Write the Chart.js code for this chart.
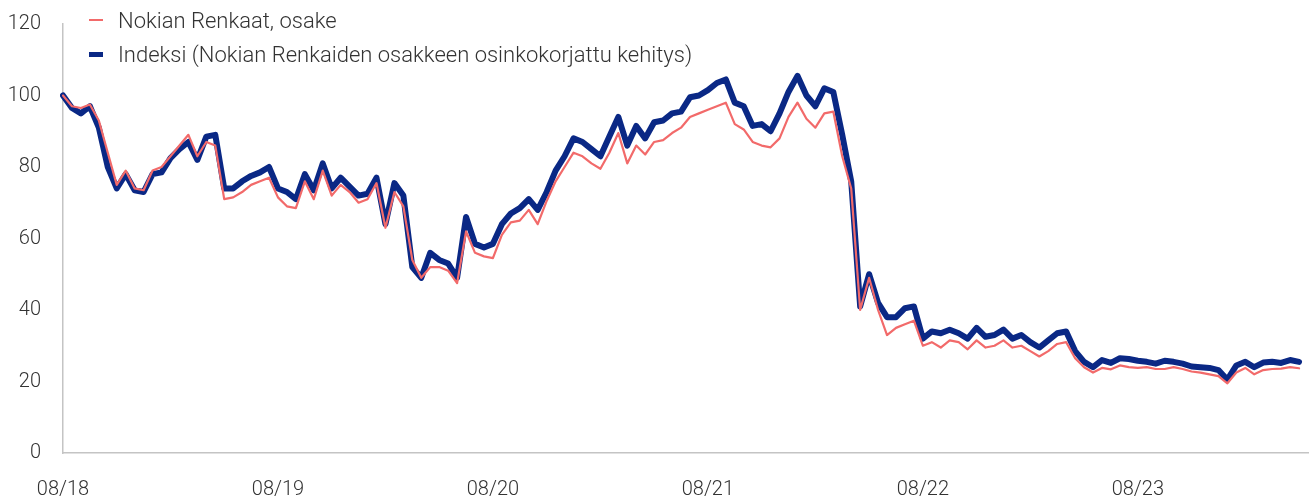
<!DOCTYPE html>
<html>
<head>
<meta charset="utf-8">
<script src="https://cdn.jsdelivr.net/npm/chart.js@4.4.1/dist/chart.umd.min.js"></script>
<style>
  body { margin: 0; background: #fff; }
  #wrap { position: relative; width: 1314px; height: 500px; }
  #legend { position: absolute; left: 89px; top: 3px; font-family: Roboto, sans-serif; font-weight: 300; font-size: 22px; color: #333; }
  #legend div { display: flex; align-items: center; height: 34px; }
  #legend span.mark { display: inline-block; width: 14px; margin-right: 15px; }
</style>
</head>
<body>
<div id="wrap">
  <canvas id="chart" width="1314" height="500"></canvas>
  <div id="legend">
    <div><span class="mark" style="height:2px;background:#f26a6a"></span>Nokian Renkaat, osake</div>
    <div><span class="mark" style="height:5px;background:#0a2885"></span>Indeksi (Nokian Renkaiden osakkeen osinkokorjattu kehitys)</div>
  </div>
</div>
<script>
// half-month steps from 08/2018
const startYear = 2018, startMonth = 8, pointCount = 140;
const tickLabels = ["08/18", "08/19", "08/20", "08/21", "08/22", "08/23"];
const yTicks = [0, 20, 40, 60, 80, 100, 120];

const categories = [];
for (let i = 0; i < pointCount; i++) {
  const m = startMonth - 1 + Math.floor(i / 2);
  const y = startYear + Math.floor(m / 12);
  const mm = String(m % 12 + 1).padStart(2, "0");
  categories.push(`${ y }-${ mm }-${ i % 2 ? "16" : "01" }`);
}

const stock = [
  100, 97, 96.5, 97.5, 93, 84, 75, 79, 74, 73.5, 79, 80, 83, 86, 89, 83, 87, 86, 71, 71.5, 73, 75, 76, 77,
  71.5, 69, 68.5, 76, 71, 79, 72, 75, 73, 70, 71, 75.5, 63, 73, 69, 54, 49, 52, 52, 51, 47.5, 62, 56, 55,
  54.5, 61, 64.5, 65, 68, 64, 70.5, 76, 80, 84, 83, 81, 79.5, 84, 89.5, 81, 86, 83.5, 87, 87.5, 89.5, 91, 94, 95,
  96, 97, 98, 92, 90.5, 87, 86, 85.5, 88, 94, 98, 93.5, 91, 95, 95.5, 83, 74, 40, 49, 40, 33, 35, 36, 37,
  30, 31, 29.5, 31.5, 31, 29, 31.5, 29.5, 30, 31.5, 29.5, 30, 28.5, 27, 28.5, 30.5, 31, 26.5, 24, 22.5, 23.8, 23.4, 24.5, 24,
  23.8, 24, 23.5, 23.5, 24, 23.5, 22.8, 22.5, 22, 21.5, 19.5, 22.5, 23.8, 22, 23.2, 23.5, 23.6, 24, 23.7
];

const index = [
  100, 96.5, 95, 97, 91, 80, 74, 78, 73.5, 73, 78, 78.5, 82.5, 85, 87, 82, 88.5, 89, 74, 74, 76, 77.5, 78.5, 80,
  74, 73, 71, 78, 73.5, 81, 74, 77, 74.5, 72, 72.5, 77, 64, 75.5, 72, 52, 49, 56, 54, 53, 49, 66, 58.5, 57.5,
  58.5, 64, 67, 68.5, 71, 68, 73, 79, 83, 88, 87, 85, 83, 88.5, 94, 86, 91.5, 88, 92.5, 93, 95, 95.5, 99.5, 100,
  101.5, 103.5, 104.5, 98, 97, 91.5, 92, 90, 95, 101, 105.5, 100, 97, 102, 101, 89, 76, 41, 50, 42, 38, 38, 40.5, 41,
  32, 34, 33.5, 34.5, 33.5, 32, 35, 32.5, 33, 34.5, 32, 33, 31, 29.5, 31.5, 33.5, 34, 28.5, 25.5, 24, 26, 25.2, 26.5, 26.3,
  25.8, 25.5, 25, 25.8, 25.5, 25, 24.2, 24, 23.8, 23.2, 20.5, 24.5, 25.5, 24, 25.3, 25.5, 25.2, 26, 25.5
];

const axisFont = { family: "Roboto, sans-serif", size: 20, weight: "300" };

new Chart(document.getElementById("chart"), {
  type: "line",
  data: {
    labels: categories,
    datasets: [
      { label: "Nokian Renkaat, osake", data: stock, borderColor: "#f26a6a", borderWidth: 2.2 },
      { label: "Indeksi (Nokian Renkaiden osakkeen osinkokorjattu kehitys)", data: index, borderColor: "#0a2885", borderWidth: 6 }
    ]
  },
  options: {
    responsive: false,
    animation: false,
    layout: { padding: { top: 24, right: 6, left: 0, bottom: 0 } },
    elements: { point: { radius: 0 }, line: { tension: 0, borderJoinStyle: "round", borderCapStyle: "round" } },
    plugins: { legend: { display: false }, tooltip: { enabled: false } },
    scales: {
      x: {
        offset: false,
        grid: { display: false, drawTicks: false },
        border: { display: true, color: "#c4c4c4", width: 1.5 },
        afterFit: (scale) => { scale.height = 47; },
        ticks: {
          autoSkip: false, maxRotation: 0, padding: 25, color: "#333", font: axisFont,
          callback: (val, i) => (i % 24 === 0 ? tickLabels[i / 24] : null)
        }
      },
      y: {
        min: 0, max: 120,
        grid: { display: false, drawTicks: false },
        border: { display: true, color: "#c4c4c4", width: 1.5 },
        afterFit: (scale) => { scale.width = 63; scale.paddingTop = 0; scale.paddingBottom = 0; },
        afterBuildTicks: (scale) => { scale.ticks = yTicks.map((v) => ({ value: v })); },
        ticks: { padding: 22, color: "#333", font: axisFont }
      }
    }
  }
});
</script>
</body>
</html>
